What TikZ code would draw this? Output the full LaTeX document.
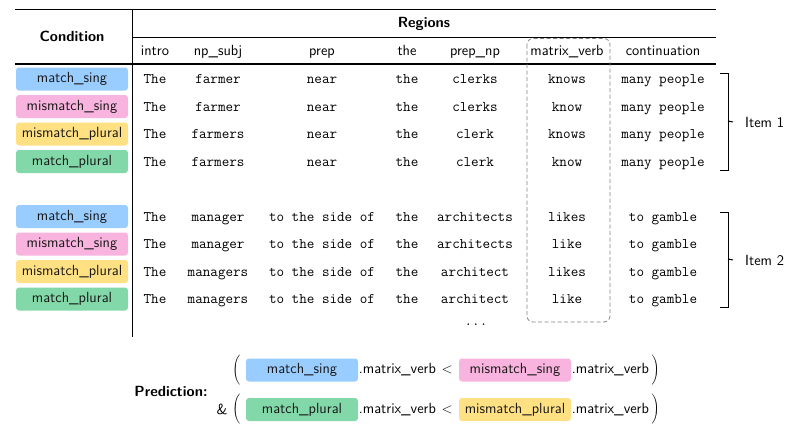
\documentclass[tikz,border=0pt]{standalone}
\usepackage{fontspec}
\definecolor{cblue}{RGB}{153,204,255}
\definecolor{cpink}{RGB}{248,180,222}
\definecolor{cyellow}{RGB}{255,224,130}
\definecolor{cgreen}{RGB}{130,216,168}
\definecolor{dashgray}{RGB}{130,130,130}
\begin{document}
\begin{tikzpicture}[x=1pt,y=-1pt,
  every node/.style={font=\fontsize{14.7}{17}\selectfont\sffamily},
  cell/.style={font=\fontsize{14.7}{17}\selectfont\ttfamily, text height=10pt, text depth=3pt, inner sep=0pt},
  hdr/.style={text height=10pt, text depth=3pt, inner sep=0pt},
  badge/.style={rounded corners=3pt, minimum width=112pt, minimum height=23pt, inner sep=0pt,
                text height=10pt, text depth=3pt, text=black!90},
  paren/.style={inner sep=0pt, font=\fontsize{14.7}{17}\selectfont},
  rule/.style={line width=1.1pt},
  thinrule/.style={line width=0.8pt},
  bracket/.style={line width=1pt},
  itemlabel/.style={inner xsep=12pt, inner ysep=2pt, anchor=west},
  dashbox/.style={draw=dashgray, line width=0.8pt, dash pattern=on 4pt off 2.5pt, rounded corners=6pt}]
\useasboundingbox (0,0) rectangle (796,432);

% table rules
\draw[rule] (15,9.5) -- (716,9.5);
\draw[thinrule] (132,37) -- (716,37);
\draw[rule] (15,64) -- (716,64);
\draw[line width=1pt] (132,9.5) -- (132,337);

% headers
\node[font=\fontsize{14.7}{17}\selectfont\sffamily\bfseries] (condh) at (72,36) {Condition};
\node[font=\fontsize{14.7}{17}\selectfont\sffamily\bfseries] (regh) at (424,23.5) {Regions};
\foreach \n/\x/\t in {h1/155/intro, h2/218/np\_subj, h3/322/prep, h4/407/the, h5/475/prep\_np, h6/567/matrix\_verb, h7/663/continuation}
  \node[hdr] (\n) at (\x,51.5) {\t};

% dashed region box
\draw[dashbox] (527,38.5) rectangle (610,322);

% rows
\foreach \i/\y/\c/\cn/\np/\pr/\pn/\mv/\co in {
  1/79/cblue/match\_sing/farmer/near/clerks/knows/many people,
  2/106.5/cpink/mismatch\_sing/farmer/near/clerks/know/many people,
  3/134/cyellow/mismatch\_plural/farmers/near/clerk/knows/many people,
  4/161.5/cgreen/match\_plural/farmers/near/clerk/know/many people,
  5/216.5/cblue/match\_sing/manager/to the side of/architects/likes/to gamble,
  6/244/cpink/mismatch\_sing/manager/to the side of/architects/like/to gamble,
  7/271.5/cyellow/mismatch\_plural/managers/to the side of/architect/likes/to gamble,
  8/299/cgreen/match\_plural/managers/to the side of/architect/like/to gamble}{
  \node[badge, fill=\c] (cond\i) at (72,\y) {\cn};
  \node[cell] (intro\i) at (155,\y+1) {The};
  \node[cell] (subj\i) at (218,\y+1) {\np};
  \node[cell] (prep\i) at (322,\y+1) {\pr};
  \node[cell] (the\i) at (407,\y+1) {the};
  \node[cell] (pnp\i) at (475,\y+1) {\pn};
  \node[cell] (mv\i) at (567,\y+1) {\mv};
  \node[cell] (cont\i) at (663,\y+1) {\co};
}
\node[cell] (dots) at (476,322) {...};

% item brackets
\node[itemlabel] (item1) at (733,122) {Item 1};
\node[itemlabel] (item2) at (733,260) {Item 2};
\draw[bracket] (720,73) -- (728,73) -- (728,170) -- (720,170);
\draw[bracket] (728,121) -- (item1.west);
\draw[bracket] (720,212) -- (728,212) -- (728,307) -- (720,307);
\draw[bracket] (728,259) -- (item2.west);

% prediction
\node[font=\fontsize{14.7}{17}\selectfont\sffamily\bfseries] (pred) at (171,391) {Prediction:};
\node[paren] (lp1) at (237,370) {$\left(\vrule height 12pt depth 12pt width 0pt\right.$};
\node[badge, fill=cblue] (pb1) at (302,370) {match\_sing};
\node[hdr, anchor=west] (pm1) at ([xshift=0.5pt]pb1.east) {.matrix\_verb};
\node[inner sep=0pt] (lt1) at (447,370) {$<$};
\node[badge, fill=cpink] (pb2) at (515,370) {mismatch\_sing};
\node[hdr, anchor=west] (pm2) at ([xshift=0.5pt]pb2.east) {.matrix\_verb};
\node[paren, anchor=west] (rp1) at ([xshift=1pt]pm2.east) {$\left.\vrule height 12pt depth 12pt width 0pt\right)$};

\node[inner sep=0pt] (amp) at (222,409.5) {\&};
\node[paren] (lp2) at (237,409.5) {$\left(\vrule height 12pt depth 12pt width 0pt\right.$};
\node[badge, fill=cgreen] (pb3) at (302,409.5) {match\_plural};
\node[hdr, anchor=west] (pm3) at ([xshift=0.5pt]pb3.east) {.matrix\_verb};
\node[inner sep=0pt] (lt2) at (447,409.5) {$<$};
\node[badge, fill=cyellow] (pb4) at (515,409.5) {mismatch\_plural};
\node[hdr, anchor=west] (pm4) at ([xshift=0.5pt]pb4.east) {.matrix\_verb};
\node[paren, anchor=west] (rp2) at ([xshift=1pt]pm4.east) {$\left.\vrule height 12pt depth 12pt width 0pt\right)$};
\end{tikzpicture}
\end{document}
